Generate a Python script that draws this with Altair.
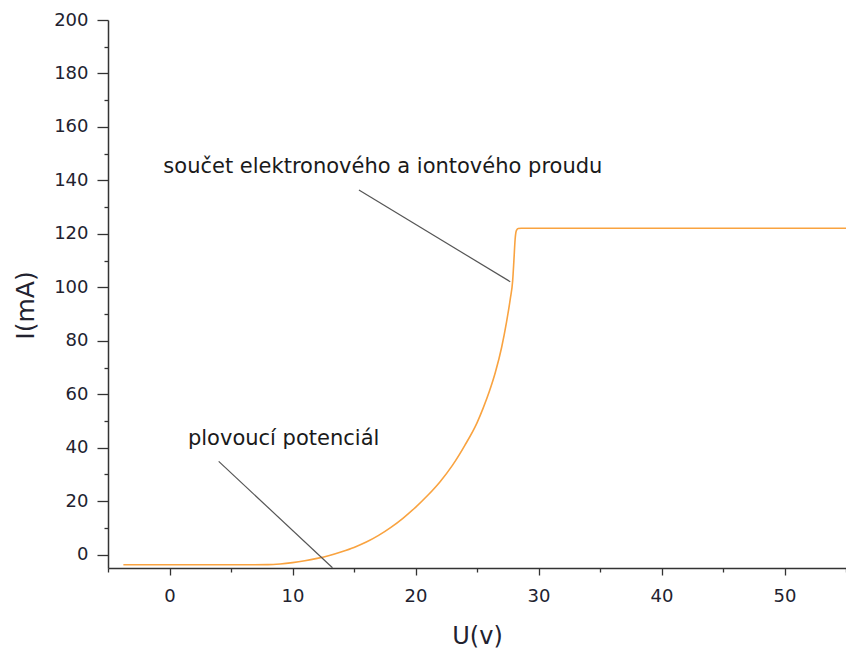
import altair as alt
import pandas as pd

# Probe characteristic: probe voltage U (V) and current I (mA)
u_volts = [-3.75, 0, 4, 8, 9, 10, 11, 12, 13, 14, 15, 16, 17, 18, 19, 20,
           21, 22, 23, 24, 25, 25.5, 26, 26.5, 27, 27.4, 27.7, 27.9, 28.0,
           28.1, 28.2, 28.35, 28.6, 30, 40, 50, 55]
i_ma = [-3.8, -3.8, -3.8, -3.75, -3.5, -3.0, -2.3, -1.4, -0.3, 1.1, 2.7, 4.7,
        7.2, 10.2, 13.7, 17.7, 22.2, 27.3, 33.4, 40.8, 49.3, 54.8, 61.0, 68.3,
        77.5, 87.0, 95.5, 102.5, 110.0, 118.0, 121.2, 122.0, 122.1, 122.1,
        122.1, 122.1, 122.1]

x_major = [0, 10, 20, 30, 40, 50]
x_minor = [-5, 5, 15, 25, 35, 45, 55]
y_major = list(range(0, 201, 20))
y_minor = list(range(10, 200, 20))

# Callouts: label anchor and leader line (data units)
note_label = ["součet elektronového a iontového proudu", "plovoucí potenciál"]
note_u = [-0.5, 1.5]
note_i = [142.7, 40.9]
lead_u0 = [15.4, 4.0]
lead_i0 = [136.4, 34.9]
lead_u1 = [27.7, 13.25]
lead_i1 = [102.1, -4.9]

curve = pd.DataFrame({"U": u_volts, "I": i_ma})
notes = pd.DataFrame({
    "label": note_label, "u": note_u, "i": note_i,
    "u0": lead_u0, "i0": lead_i0, "u1": lead_u1, "i1": lead_i1,
})

FONT = "DejaVu Sans"
AXIS_COLOR = "#333333"
LABEL_COLOR = "#22222f"

xs = alt.Scale(domain=[-5, 55], nice=False, zero=False)
ys = alt.Scale(domain=[-5, 200], nice=False, zero=False)

x_axis = alt.Axis(
    orient="bottom", values=x_major, format="d", grid=False,
    tickSize=7, tickWidth=1.3, tickColor=AXIS_COLOR,
    domainColor=AXIS_COLOR, domainWidth=1.5,
    labelFont=FONT, labelFontSize=18, labelColor=LABEL_COLOR,
    labelPadding=12, labelFlush=False, labelOverlap=False,
    title="U(v)", titleFont=FONT, titleFontSize=24, titleFontWeight="normal",
    titleColor=LABEL_COLOR, titleX=369, titleY=75,
    titleAlign="center", titleBaseline="alphabetic",
)
y_axis = alt.Axis(
    orient="left", values=y_major, format="d", grid=False,
    tickSize=11, tickWidth=1.3, tickColor=AXIS_COLOR,
    domainColor=AXIS_COLOR, domainWidth=1.5,
    labelFont=FONT, labelFontSize=18, labelColor=LABEL_COLOR,
    labelPadding=9, labelFlush=False, labelOverlap=False,
    title="I(mA)", titleFont=FONT, titleFontSize=25, titleFontWeight="normal",
    titleColor=LABEL_COLOR, titleX=-75, titleY=285, titleAngle=270,
    titleAlign="center", titleBaseline="alphabetic",
)
x_minor_axis = alt.Axis(
    orient="bottom", values=x_minor, grid=False, labels=False, domain=False,
    tickSize=4, tickWidth=1.3, tickColor=AXIS_COLOR, title=None,
)
y_minor_axis = alt.Axis(
    orient="left", values=y_minor, grid=False, labels=False, domain=False,
    tickSize=4, tickWidth=1.3, tickColor=AXIS_COLOR, title=None,
)

minor_ticks = alt.Chart(curve).mark_line(strokeOpacity=0).encode(
    x=alt.X("U:Q", scale=xs, axis=x_minor_axis),
    y=alt.Y("I:Q", scale=ys, axis=y_minor_axis),
)

line = alt.Chart(curve).mark_line(
    color="#f9a340", strokeWidth=1.6, interpolate="monotone"
).encode(
    x=alt.X("U:Q", scale=xs, axis=x_axis),
    y=alt.Y("I:Q", scale=ys, axis=y_axis),
)

leaders = alt.Chart(notes).mark_rule(color="#555555", strokeWidth=1.2).encode(
    x=alt.X("u0:Q", scale=xs, axis=None),
    y=alt.Y("i0:Q", scale=ys, axis=None),
    x2="u1:Q",
    y2="i1:Q",
)

labels = alt.Chart(notes).mark_text(
    align="left", baseline="alphabetic", font=FONT, fontSize=21,
    color="#1a1a1a",
).encode(
    x=alt.X("u:Q", scale=xs, axis=None),
    y=alt.Y("i:Q", scale=ys, axis=None),
    text="label:N",
)

chart = (
    alt.layer(minor_ticks, line, leaders, labels)
    .resolve_axis(x="independent", y="independent")
    .properties(
        width=738, height=548,
        autosize=alt.AutoSizeParams(type="none"),
        padding={"left": 108, "top": 20, "right": 0, "bottom": 82},
        background="white",
    )
    .configure_view(stroke=None)
)

chart.save("out.html", embed_options={"renderer": "svg", "actions": False})
